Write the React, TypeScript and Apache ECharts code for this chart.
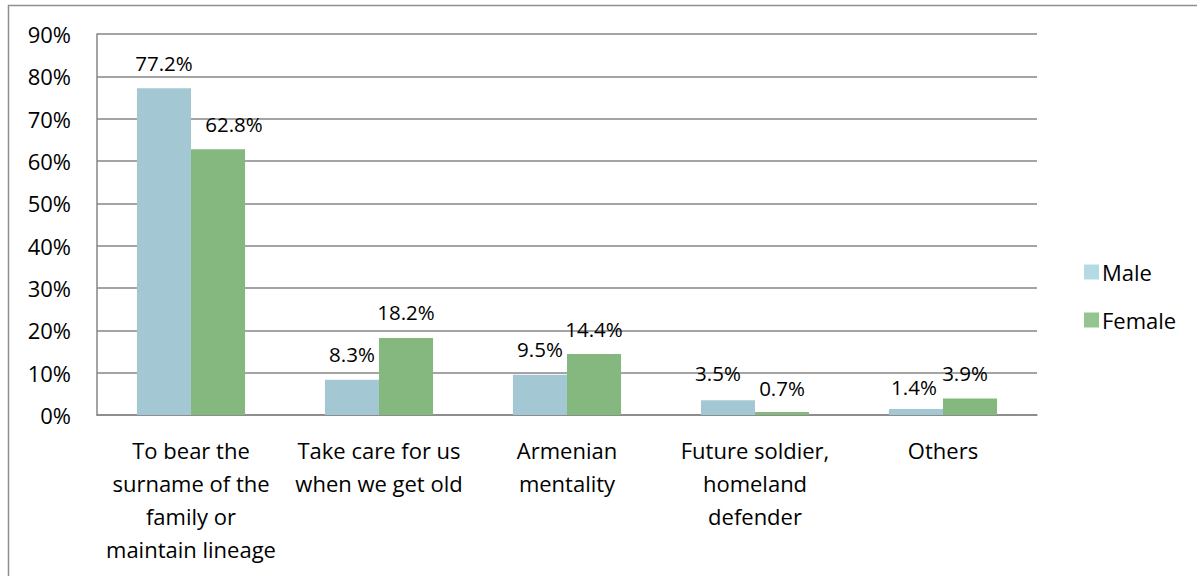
import React, { useEffect, useRef } from "react";
import * as echarts from "echarts";

const categories = [
  "To bear the\nsurname of the\nfamily or\nmaintain lineage",
  "Take care for us\nwhen we get old",
  "Armenian\nmentality",
  "Future soldier,\nhomeland\ndefender",
  "Others",
];
const maleValues = [77.2, 8.3, 9.5, 3.5, 1.4];
const femaleValues = [62.8, 18.2, 14.4, 0.7, 3.9];
const yTicks = [0, 10, 20, 30, 40, 50, 60, 70, 80, 90];
const seriesNames = ["Male", "Female"];

const FONT = "'Open Sans', sans-serif";

// label nudges (style only) to mimic the original label placement
const maleLabelShift: Record<number, [number, number]> = { 3: [-10, -2], 4: [-2, 3] };
const femaleLabelShift: Record<number, [number, number]> = { 0: [16, 0], 3: [0, 1], 4: [-5, 0] };

export default function App() {
  const ref = useRef<HTMLDivElement>(null);
  useEffect(() => {
    if (!ref.current) return;
    const chart = echarts.init(ref.current, undefined, { renderer: "svg" });
    const mk = (vals: number[], shifts: Record<number, [number, number]>) =>
      vals.map((v, i) =>
        shifts[i] ? { value: v, label: { offset: shifts[i] } } : { value: v }
      );
    const labelCfg = {
      show: true,
      position: "top" as const,
      distance: 15,
      color: "#000",
      fontFamily: FONT,
      fontSize: 20.5,
      formatter: (p: any) => p.value.toFixed(1) + "%",
    };
    chart.setOption({
      animation: false,
      backgroundColor: "#fff",
      textStyle: { fontFamily: FONT },
      graphic: [
        {
          type: "rect",
          shape: { x: 8.5, y: 5.5, width: 1300, height: 700 },
          style: { fill: "none", stroke: "#8f8f8f", lineWidth: 1.5 },
          silent: true,
          z: -1,
        },
      ],
      grid: { left: 97, top: 34, right: 160, bottom: 161, containLabel: false },
      legend: {
        orient: "vertical",
        left: 1079,
        top: 256,
        itemWidth: 15,
        itemHeight: 15,
        itemGap: 26,
        icon: "rect",
        textStyle: { fontFamily: FONT, fontSize: 22, color: "#000", padding: [0, 0, 0, -2] },
        data: [
          { name: seriesNames[0], itemStyle: { color: "#b3dbe6" } },
          { name: seriesNames[1], itemStyle: { color: "#92c68e" } },
        ],
      },
      xAxis: {
        type: "category",
        data: categories,
        axisLine: { show: true, lineStyle: { color: "#868686", width: 1.5 } },
        axisTick: { show: false },
        axisLabel: {
          interval: 0,
          margin: 18,
          color: "#000",
          fontFamily: FONT,
          fontSize: 22,
          lineHeight: 33,
        },
      },
      yAxis: {
        type: "value",
        min: yTicks[0],
        max: yTicks[yTicks.length - 1],
        interval: 10,
        axisLine: { show: true, lineStyle: { color: "#868686", width: 1.5 } },
        axisTick: { show: false },
        splitLine: { show: true, lineStyle: { color: "#868686", width: 1.5 } },
        axisLabel: {
          margin: 26,
          color: "#000",
          fontFamily: FONT,
          fontSize: 22,
          formatter: (v: number) => v + "%",
        },
      },
      series: [
        {
          name: seriesNames[0],
          type: "bar",
          data: mk(maleValues, maleLabelShift),
          barGap: "0%",
          barCategoryGap: "42.5%",
          itemStyle: { color: "#a3c8d4" },
          label: labelCfg,
        },
        {
          name: seriesNames[1],
          type: "bar",
          data: mk(femaleValues, femaleLabelShift),
          barGap: "0%",
          barCategoryGap: "42.5%",
          itemStyle: { color: "#84b87e" },
          label: labelCfg,
        },
      ],
    });
    return () => chart.dispose();
  }, []);
  return (
    <div
      ref={ref}
      style={{ position: "fixed", left: 0, top: 0, width: 1197, height: 576 }}
    />
  );
}
